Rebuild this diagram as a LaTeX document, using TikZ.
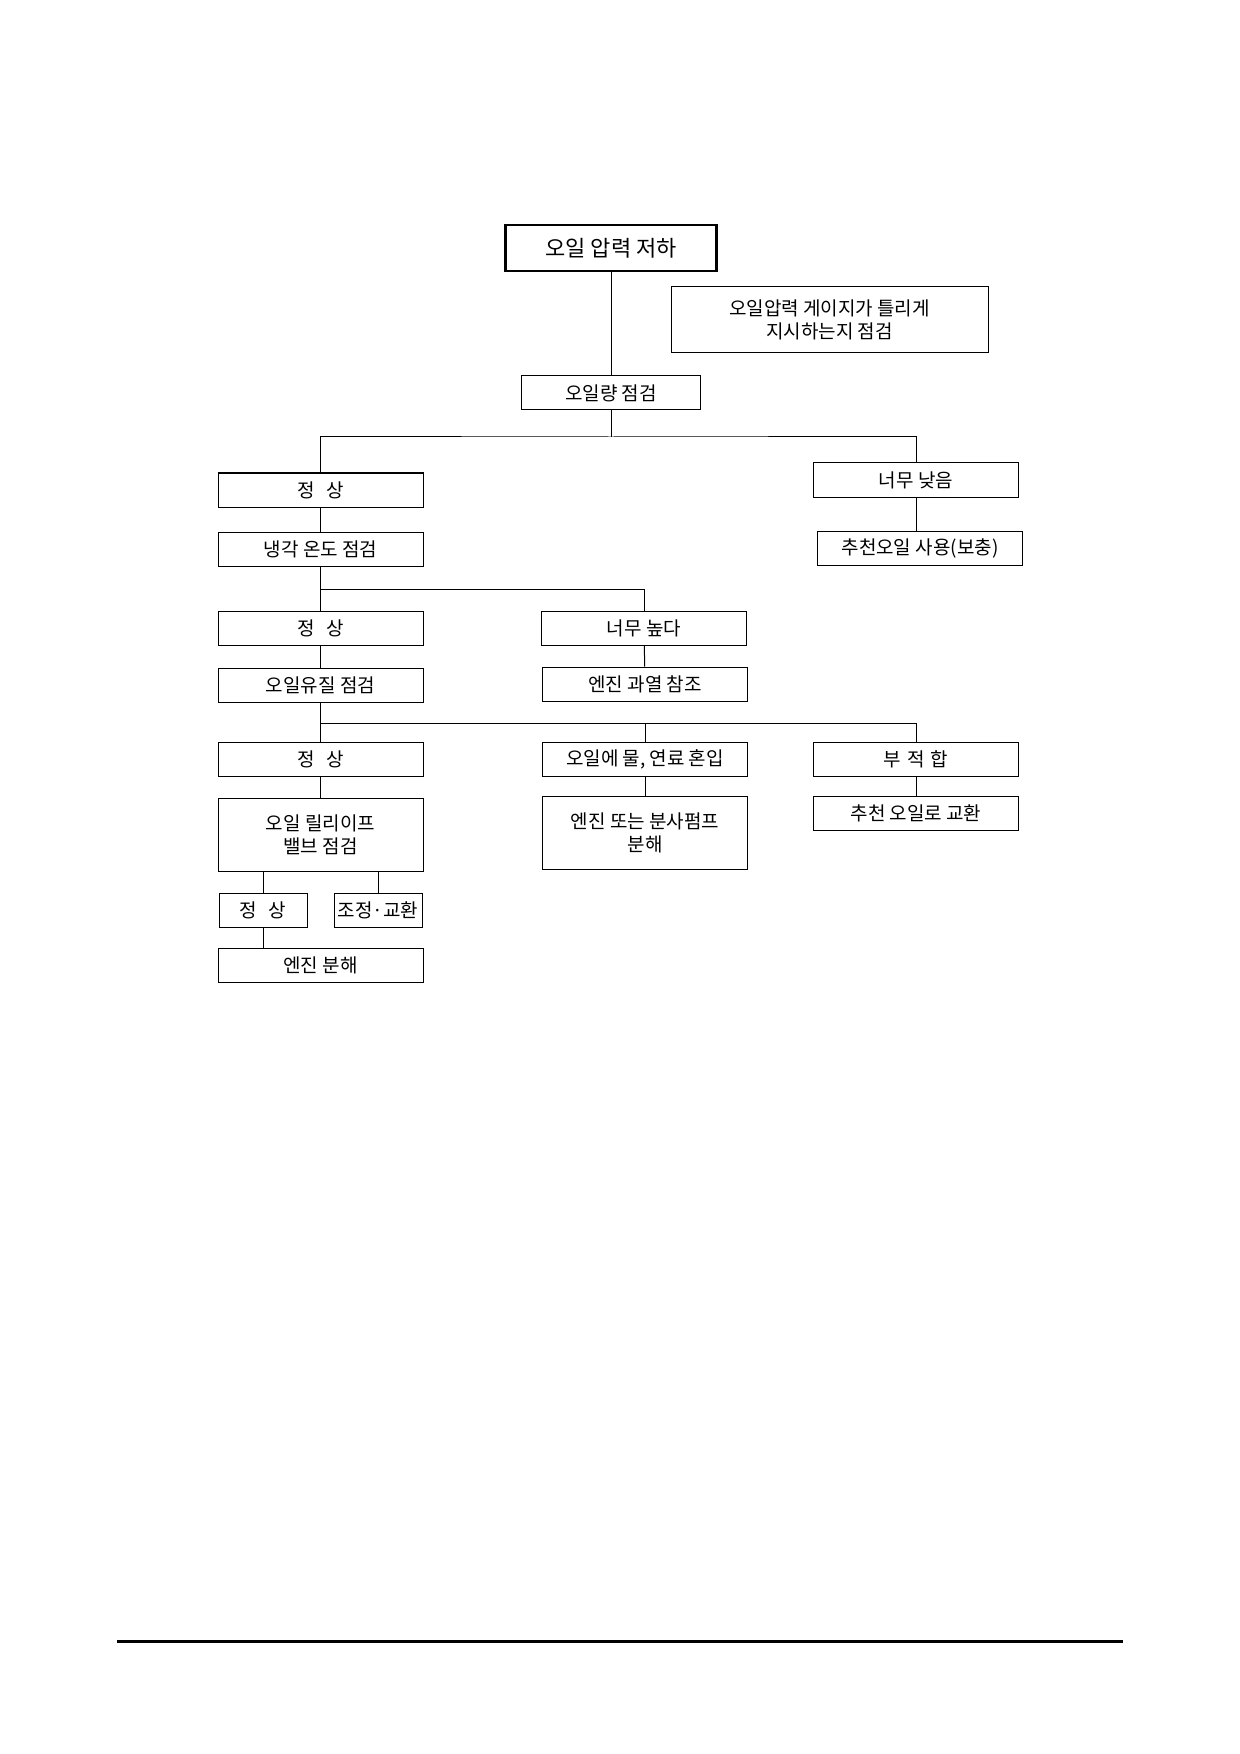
\documentclass[tikz,border=0pt]{standalone}
\usepackage{fontspec}
\newfontfamily\kr{Noto Sans CJK KR}
\tikzset{
  box/.style={draw, line width=0.5pt, inner sep=0pt, align=center,
    minimum width=102.5pt, minimum height=17pt, font=\kr\fontsize{9.5}{11.5}\selectfont},
  smallbox/.style={box, minimum width=44pt},
  tallbox/.style={box, minimum height=36.5pt},
  link/.style={line width=0.5pt},
}
\begin{document}
\begin{tikzpicture}[x=0.5pt,y=-0.5pt]
  \useasboundingbox (0,0) rectangle (1239,1754);
  % title and side note
  \node[box, line width=1.2pt, minimum width=105.5pt, minimum height=23pt,
        font=\kr\fontsize{11}{13}\selectfont] (top) at (611,248) {오일 압력 저하};
  \node[box, minimum width=158.5pt, minimum height=33pt] (gauge) at (829.5,319.5)
        {오일압력 게이지가 틀리게\\지시하는지 점검};
  \node[box, minimum width=89.5pt] (qty) at (611,393) {오일량 점검};
  % first level
  \node[box] (ok1) at (320.5,490) {정\hspace{6pt}상};
  \node[box] (low) at (916,480) {너무 낮음};
  \node[box] (supply) at (920,548.5) {추천오일 사용(보충)};
  \node[box] (temp) at (320.5,549.5) {냉각 온도 점검};
  % second level
  \node[box] (ok2) at (320.5,628) {정\hspace{6pt}상};
  \node[box] (high) at (644,628) {너무 높다};
  \node[box] (quality) at (320.5,685) {오일유질 점검};
  \node[box] (overheat) at (645,684) {엔진 과열 참조};
  % third level
  \node[box] (ok3) at (320.5,759) {정\hspace{6pt}상};
  \node[box] (water) at (645,759) {오일에 물, 연료 혼입};
  \node[box] (unfit) at (916,759) {부\hspace{3pt}적\hspace{3pt}합};
  \node[tallbox] (relief) at (320.5,834.5) {오일 릴리이프\\밸브 점검};
  \node[tallbox] (pump) at (645,832.5) {엔진 또는 분사펌프\\분해};
  \node[box] (change) at (916,813.5) {추천 오일로 교환};
  \node[smallbox] (ok4) at (263,910) {정\hspace{6pt}상};
  \node[smallbox] (adjust) at (378,910) {조정·교환};
  \node[box] (engine) at (320.5,965.5) {엔진 분해};
  % bus points
  \coordinate (bus1) at (611,437);
  \coordinate (bus2) at (320.5,589);
  \coordinate (bus3) at (320.5,723.5);
  % connectors
  \draw[link] (top) -- (qty);
  \draw[link] (qty) -- (bus1);
  \draw[link] (ok1.north) |- (bus1) -| (low.north);
  \draw[link] (low.south) -- (low.south |- supply.north);
  \draw[link] (ok1) -- (temp);
  \draw[link] (temp.south) -- (bus2) -| (high.north);
  \draw[link] (bus2) -- (ok2.north);
  \draw[link] (high) -- (overheat);
  \draw[link] (ok2) -- (quality);
  \draw[link] (quality.south) -- (bus3) -| (unfit.north);
  \draw[link] (bus3) -- (ok3.north);
  \draw[link] (water.north) -- (water.north |- bus3);
  \draw[link] (ok3) -- (relief);
  \draw[link] (water) -- (pump);
  \draw[link] (unfit) -- (change);
  \draw[link] (ok4.north |- relief.south) -- (ok4.north);
  \draw[link] (adjust.north |- relief.south) -- (adjust.north);
  \draw[link] (ok4.south) -- (ok4.south |- engine.north);
  % page rule
  \draw[line width=1.2pt] (117,1641.5) -- (1123,1641.5);
\end{tikzpicture}
\end{document}
